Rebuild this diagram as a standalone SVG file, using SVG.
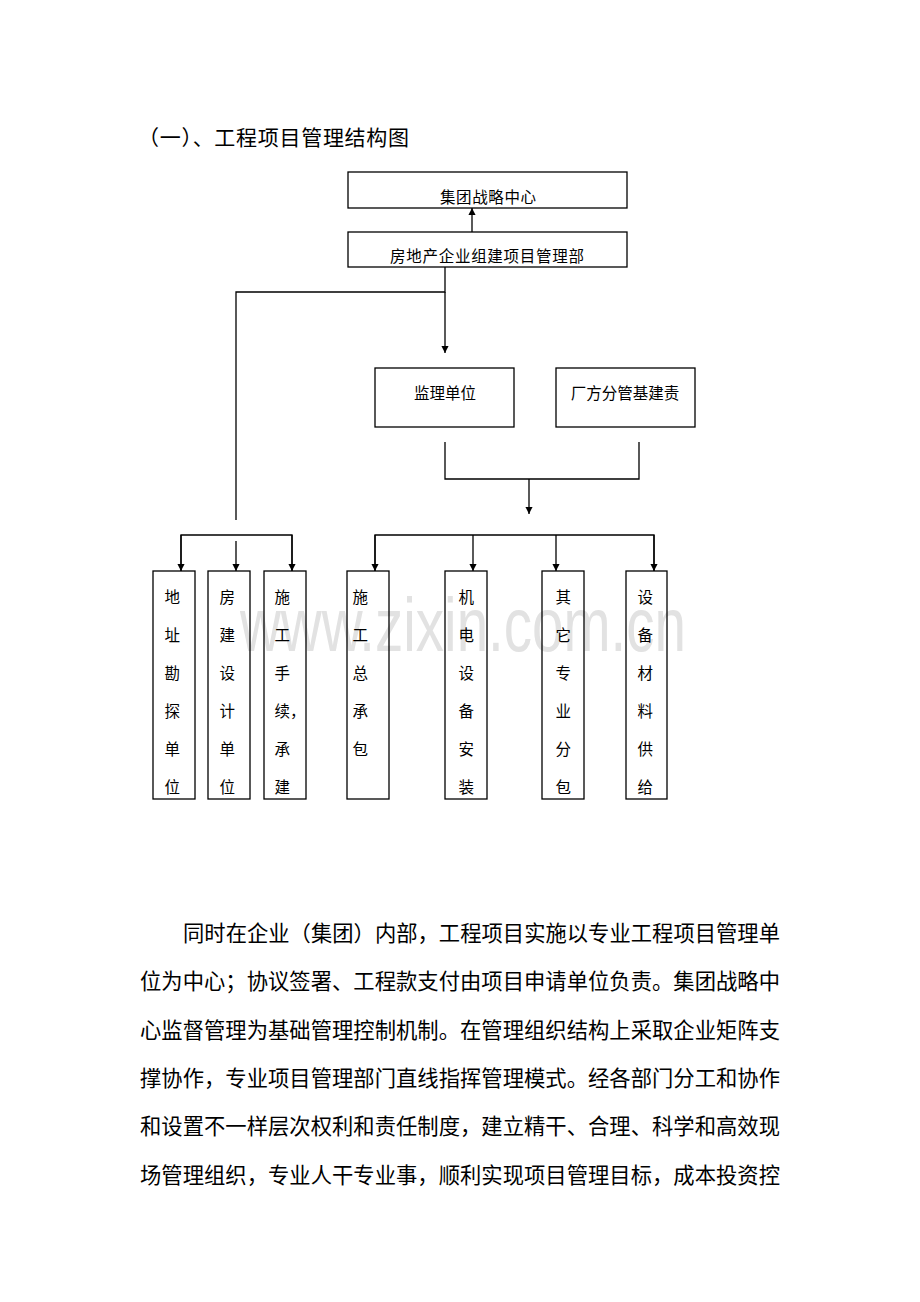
<svg xmlns="http://www.w3.org/2000/svg" width="920" height="1302" viewBox="0 0 920 1302">
<defs>
<style>
.cjk{font-family:"Liberation Serif","Noto Sans CJK SC",serif;fill:#000}
.box{fill:none;stroke:#000;stroke-width:1.3}
.ln{fill:none;stroke:#000;stroke-width:1.3}
.bt{font-size:15.5px;text-anchor:middle}
.vt{font-size:15.5px}
.body{font-size:21.3px}
.wm{font-family:"Liberation Sans",Arial,sans-serif;font-size:76px;fill:#e2e2e2}
</style>
<marker id="arr" viewBox="0 0 8 9" refX="8" refY="4" markerWidth="9" markerHeight="8" orient="auto" markerUnits="userSpaceOnUse">
<path d="M0,0 L8,4 L0,8 z" fill="#000"/>
</marker>
</defs>
<rect width="920" height="1302" fill="#fff"/>
<text class="wm" x="240" y="651" textLength="446" lengthAdjust="spacingAndGlyphs">www.zixin.com.cn</text>
<text id="title" class="cjk" x="138" y="145" font-size="21px" textLength="271" lengthAdjust="spacing">（一）、工程项目管理结构图</text>
<g id="n-center"><rect class="box" x="348" y="172" width="279" height="36"/><text class="cjk bt" x="488" y="203" textLength="96" lengthAdjust="spacing">集团战略中心</text></g>
<g id="n-dept"><rect class="box" x="348" y="232" width="279" height="35"/><text class="cjk bt" x="487" y="262" textLength="194" lengthAdjust="spacing">房地产企业组建项目管理部</text></g>
<g id="n-jianli"><rect class="box" x="375" y="368" width="139" height="59"/><text class="cjk bt" x="445" y="399">监理单位</text></g>
<g id="n-changfang"><rect class="box" x="556" y="368" width="139" height="59"/><text class="cjk bt" x="625" y="399">厂方分管基建责</text></g>
<g id="n-b1"><rect class="box" x="153" y="571" width="42" height="228"/><text class="cjk vt" x="164.5" y="603"><tspan x="164.5">地</tspan><tspan x="164.5" dy="38">址</tspan><tspan x="164.5" dy="38">勘</tspan><tspan x="164.5" dy="38">探</tspan><tspan x="164.5" dy="38">单</tspan><tspan x="164.5" dy="38">位</tspan></text></g>
<g id="n-b2"><rect class="box" x="208" y="571" width="42" height="228"/><text class="cjk vt" x="219.5" y="603"><tspan x="219.5">房</tspan><tspan x="219.5" dy="38">建</tspan><tspan x="219.5" dy="38">设</tspan><tspan x="219.5" dy="38">计</tspan><tspan x="219.5" dy="38">单</tspan><tspan x="219.5" dy="38">位</tspan></text></g>
<g id="n-b3"><rect class="box" x="264" y="571" width="42" height="228"/><text class="cjk vt" x="274.5" y="603"><tspan x="274.5">施</tspan><tspan x="274.5" dy="38">工</tspan><tspan x="274.5" dy="38">手</tspan><tspan x="274.5" dy="38">续，</tspan><tspan x="274.5" dy="38">承</tspan><tspan x="274.5" dy="38">建</tspan></text></g>
<g id="n-b4"><rect class="box" x="347" y="571" width="42" height="228"/><text class="cjk vt" x="352.5" y="603"><tspan x="352.5">施</tspan><tspan x="352.5" dy="38">工</tspan><tspan x="352.5" dy="38">总</tspan><tspan x="352.5" dy="38">承</tspan><tspan x="352.5" dy="38">包</tspan></text></g>
<g id="n-b5"><rect class="box" x="445" y="571" width="42" height="228"/><text class="cjk vt" x="458.5" y="603"><tspan x="458.5">机</tspan><tspan x="458.5" dy="38">电</tspan><tspan x="458.5" dy="38">设</tspan><tspan x="458.5" dy="38">备</tspan><tspan x="458.5" dy="38">安</tspan><tspan x="458.5" dy="38">装</tspan></text></g>
<g id="n-b6"><rect class="box" x="542" y="571" width="42" height="228"/><text class="cjk vt" x="555.5" y="603"><tspan x="555.5">其</tspan><tspan x="555.5" dy="38">它</tspan><tspan x="555.5" dy="38">专</tspan><tspan x="555.5" dy="38">业</tspan><tspan x="555.5" dy="38">分</tspan><tspan x="555.5" dy="38">包</tspan></text></g>
<g id="n-b7"><rect class="box" x="626" y="571" width="41" height="228"/><text class="cjk vt" x="637.5" y="603"><tspan x="637.5">设</tspan><tspan x="637.5" dy="38">备</tspan><tspan x="637.5" dy="38">材</tspan><tspan x="637.5" dy="38">料</tspan><tspan x="637.5" dy="38">供</tspan><tspan x="637.5" dy="38">给</tspan></text></g>
<g id="connectors">
<path class="ln" d="M472,232 V208" marker-end="url(#arr)"/>
<path class="ln" d="M445,267 V292 H236 V520"/>
<path class="ln" d="M445,292 V353" marker-end="url(#arr)"/>
<path class="ln" d="M445,442 V479 H639 V442"/>
<path class="ln" d="M529,479 V514" marker-end="url(#arr)"/>
<path class="ln" d="M181,571 V535 H292 V571"/>
<path class="ln" d="M181,535 V571" marker-end="url(#arr)"/>
<path class="ln" d="M292,535 V571" marker-end="url(#arr)"/>
<path class="ln" d="M236,541 V571" marker-end="url(#arr)"/>
<path class="ln" d="M375,571 V535 H654 V571"/>
<path class="ln" d="M375,535 V571" marker-end="url(#arr)"/>
<path class="ln" d="M473,535 V571" marker-end="url(#arr)"/>
<path class="ln" d="M556,535 V571" marker-end="url(#arr)"/>
<path class="ln" d="M654,535 V571" marker-end="url(#arr)"/>
</g>
<g id="body" class="cjk body">
<text x="183" y="941" textLength="597" lengthAdjust="spacing">同时在企业（集团）内部，工程项目实施以专业工程项目管理单</text>
<text x="140" y="989" textLength="640" lengthAdjust="spacing">位为中心；协议签署、工程款支付由项目申请单位负责。集团战略中</text>
<text x="140" y="1038" textLength="640" lengthAdjust="spacing">心监督管理为基础管理控制机制。在管理组织结构上采取企业矩阵支</text>
<text x="140" y="1086" textLength="640" lengthAdjust="spacing">撑协作，专业项目管理部门直线指挥管理模式。经各部门分工和协作</text>
<text x="140" y="1134" textLength="640" lengthAdjust="spacing">和设置不一样层次权利和责任制度，建立精干、合理、科学和高效现</text>
<text x="140" y="1183" textLength="640" lengthAdjust="spacing">场管理组织，专业人干专业事，顺利实现项目管理目标，成本投资控</text>
</g>
</svg>
